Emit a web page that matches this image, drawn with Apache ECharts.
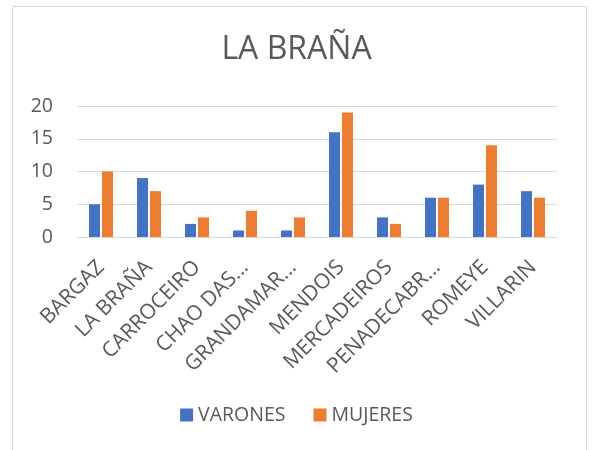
<!DOCTYPE html>
<html><head><meta charset="utf-8">
<script src="https://cdn.jsdelivr.net/npm/echarts@6/dist/echarts.min.js"></script>
<style>html,body{margin:0;padding:0;background:#fff}#c{width:593px;height:450px}</style>
</head><body><div id="c"></div>
<script>
const categories = ["BARGAZ","LA BRAÑA","CARROCEIRO","CHAO DAS...","GRANDAMAR...","MENDOIS","MERCADEIROS","PENADECABR...","ROMEYE","VILLARIN"];
const varones = [5,9,2,1,1,16,3,6,8,7];
const mujeres = [10,7,3,4,3,19,2,6,14,6];
const yTicks = {min:0,max:20,interval:5};
const FONT = "'Open Sans', sans-serif";
const chart = echarts.init(document.getElementById('c'));
chart.setOption({
  animation:false,
  graphic:[{type:'rect',shape:{x:12.5,y:6.5,width:574,height:460},style:{fill:'none',stroke:'#d9d9d9',lineWidth:1},silent:true}],
  title:{text:'LA BRAÑA',left:'center',top:29,textStyle:{fontFamily:FONT,fontSize:32,fontWeight:'normal',color:'#595959'}},
  legend:{top:400,left:'center',itemWidth:13,itemHeight:13,itemGap:28,icon:'rect',
    textStyle:{fontFamily:FONT,fontSize:19.5,color:'#595959'}},
  grid:{left:77,right:36,top:106,height:131,containLabel:false},
  xAxis:{type:'category',data:categories,
    axisLine:{lineStyle:{color:'#d9d9d9'}},axisTick:{show:false},
    axisLabel:{rotate:45,interval:0,fontFamily:FONT,fontSize:21,color:'#595959',margin:27}},
  yAxis:{type:'value',min:yTicks.min,max:yTicks.max,interval:yTicks.interval,
    axisLine:{show:false},axisTick:{show:false},
    splitLine:{lineStyle:{color:'#d9d9d9',width:1}},
    axisLabel:{fontFamily:FONT,fontSize:19.5,color:'#595959',margin:24}},
  series:[
    {name:'VARONES',type:'bar',data:varones,barWidth:11,barGap:'18%',itemStyle:{color:'#4472c4'}},
    {name:'MUJERES',type:'bar',data:mujeres,barWidth:11,itemStyle:{color:'#ed7d31'}}
  ]
});
</script></body></html>
